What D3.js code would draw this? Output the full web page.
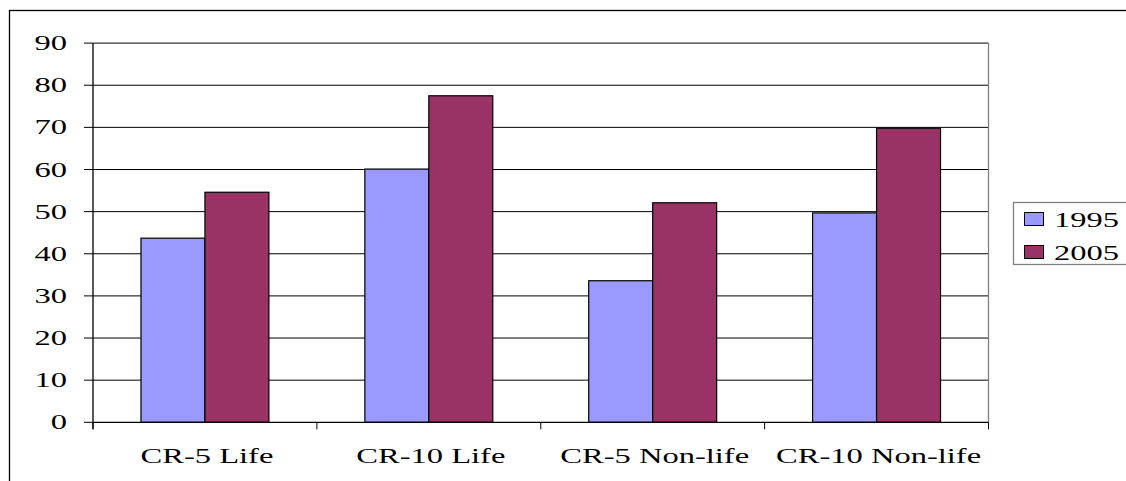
<!DOCTYPE html>
<html><head><meta charset="utf-8">
<script src="https://cdn.jsdelivr.net/npm/d3@7"></script>
<style>
html,body{margin:0;padding:0;background:#fff;}
svg{display:block;}
</style></head>
<body>
<svg id="chart" width="1126" height="481"></svg>
<script>
const categories = ["CR-5 Life", "CR-10 Life", "CR-5 Non-life", "CR-10 Non-life"];
const seriesNames = ["1995", "2005"];
const values1995 = [43.7, 60.1, 33.6, 49.7];
const values2005 = [54.6, 77.5, 52.1, 69.8];
const yTicks = [0, 10, 20, 30, 40, 50, 60, 70, 80, 90];
const colors = ["#9999FF", "#993366"];

const FONT = "'Liberation Serif', 'DejaVu Serif', serif";
const svg = d3.select("#chart").attr("font-family", FONT);
const L = 93, R = 988.5, T = 43.1, B = 422.3;
const SX = 1.55, FS = 21;

// outer chart border
svg.append("rect").attr("x", 9.5).attr("y", 10.5).attr("width", 1300).attr("height", 600)
  .attr("fill", "none").attr("stroke", "#000").attr("stroke-width", 1.3);

const x = d3.scaleBand().domain(categories).range([L, R]).padding(0);
const xs = d3.scaleBand().domain(seriesNames).range([0, x.bandwidth()]).paddingInner(0).paddingOuter(0.75);
const y = d3.scaleLinear().domain([0, 90]).range([B, T]);

// gridlines
svg.append("g").selectAll("line").data(yTicks.filter(d => d > 0)).join("line")
  .attr("x1", L).attr("x2", R).attr("y1", d => y(d)).attr("y2", d => y(d))
  .attr("stroke", "#000").attr("stroke-width", 1);

// plot area right border
svg.append("line").attr("x1", R).attr("x2", R).attr("y1", T).attr("y2", B)
  .attr("stroke", "#808080").attr("stroke-width", 1.3);

// bars
const data = [];
categories.forEach((c, i) => {
  data.push({c, s: "1995", v: values1995[i], col: colors[0]});
  data.push({c, s: "2005", v: values2005[i], col: colors[1]});
});
svg.append("g").selectAll("rect").data(data).join("rect")
  .attr("x", d => x(d.c) + xs(d.s))
  .attr("width", xs.bandwidth())
  .attr("y", d => y(d.v))
  .attr("height", d => y(0) - y(d.v))
  .attr("fill", d => d.col)
  .attr("stroke", "#000").attr("stroke-width", 1.2);

// y axis
const yAxis = svg.append("g");
yAxis.append("line").attr("x1", L).attr("x2", L).attr("y1", T).attr("y2", B + 7)
  .attr("stroke", "#000").attr("stroke-width", 1.3);
yAxis.selectAll("line.tick").data(yTicks).join("line").attr("class", "tick")
  .attr("x1", L - 9).attr("x2", L).attr("y1", d => y(d)).attr("y2", d => y(d))
  .attr("stroke", "#000").attr("stroke-width", 1);
yAxis.selectAll("text").data(yTicks).join("text")
  .attr("transform", d => `translate(67,${y(d) + 7}) scale(${SX},1)`)
  .attr("text-anchor", "end").attr("font-size", FS).attr("font-family", FONT).text(d => d);

// x axis
const xAxis = svg.append("g");
xAxis.append("line").attr("x1", L).attr("x2", R).attr("y1", B).attr("y2", B)
  .attr("stroke", "#000").attr("stroke-width", 1.3);
const bounds = categories.map(c => x(c)).concat([R]);
xAxis.selectAll("line.tick").data(bounds).join("line").attr("class", "tick")
  .attr("x1", d => d).attr("x2", d => d).attr("y1", B).attr("y2", B + 7)
  .attr("stroke", "#000").attr("stroke-width", 1);
xAxis.selectAll("text").data(categories).join("text")
  .attr("transform", d => `translate(${x(d) + x.bandwidth() / 2 + 2},463) scale(${SX},1)`)
  .attr("text-anchor", "middle").attr("font-size", FS).attr("font-family", FONT).text(d => d);

// legend
const lg = svg.append("g");
lg.append("rect").attr("x", 1013.5).attr("y", 202.5).attr("width", 200).attr("height", 62)
  .attr("fill", "#fff").attr("stroke", "#808080").attr("stroke-width", 1.3);
seriesNames.forEach((s, i) => {
  const yy = 212.5 + i * 33;
  lg.append("rect").attr("x", 1024.5).attr("y", yy).attr("width", 19).attr("height", 13)
    .attr("fill", colors[i]).attr("stroke", "#000").attr("stroke-width", 1);
  lg.append("text").attr("transform", `translate(1054,${yy + 14}) scale(${SX},1)`)
    .attr("font-size", FS).attr("font-family", FONT).text(s);
});
</script>
</body></html>
